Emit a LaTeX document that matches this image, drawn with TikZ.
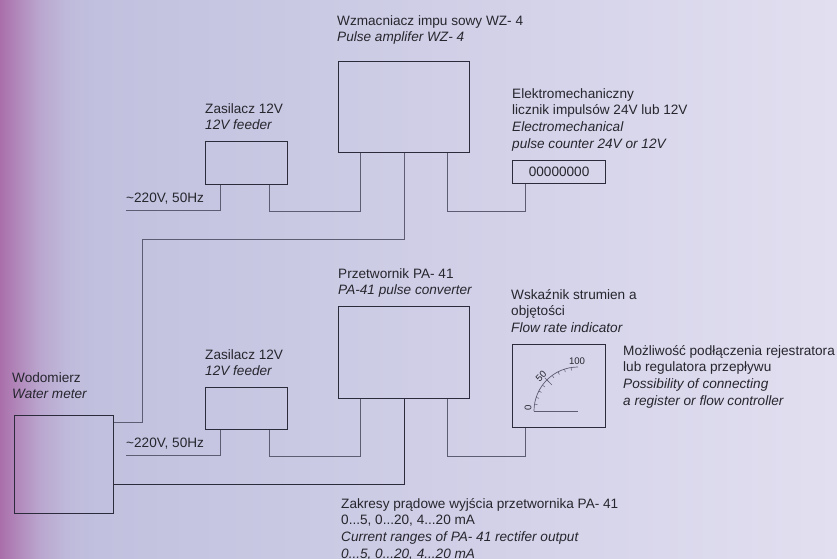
\documentclass[tikz,border=0pt]{standalone}
\usepackage{fontspec}
\setmainfont{Liberation Sans}
\usepackage{tikz}
\usetikzlibrary{arrows.meta,positioning,calc}
\definecolor{boxline}{HTML}{2B2B3C}
\definecolor{wireline}{HTML}{5C5C72}
\definecolor{txtcol}{HTML}{26262E}
\definecolor{c0}{RGB}{170,110,170}
\definecolor{c1}{RGB}{177,135,186}
\definecolor{c2}{RGB}{186,165,206}
\definecolor{c3}{RGB}{191,186,219}
\definecolor{c4}{RGB}{193,193,223}
\definecolor{c5}{RGB}{226,223,240}
\pgfdeclarehorizontalshading{bgshade}{100bp}{
  color(0bp)=(c0); color(25bp)=(c0); color(26bp)=(c1); color(27.3bp)=(c2);
  color(29bp)=(c3); color(31bp)=(c4); color(75bp)=(c5); color(100bp)=(c5)}

\begin{document}
\begin{tikzpicture}[x=1pt, y=-1pt,
    unit/.style={draw=boxline, line width=1.2pt, inner sep=0pt, anchor=north west},
    wire/.style={draw=wireline, line width=1pt},
    lbl/.style={anchor=north west, inner sep=0pt, align=left, text=txtcol, font=\fontsize{13.6}{16.7}\selectfont},
    scalelbl/.style={inner sep=0pt, text=txtcol, font=\fontsize{9.6}{10}\selectfont}
]
\useasboundingbox (0,0) rectangle (837,558);
\fill[shading=bgshade] (0,0) rectangle (837,558);

\node[unit, minimum width=131pt, minimum height=91pt] (amp) at (338,61) {};
\node[unit, minimum width=82pt, minimum height=43pt] (feederA) at (205,141) {};
\node[unit, minimum width=93pt, minimum height=23pt, font=\fontsize{13.6}{14}\selectfont, text=txtcol] (counter) at (512,160) {00000000};
\node[unit, minimum width=82pt, minimum height=42pt] (feederB) at (205,387) {};
\node[unit, minimum width=131pt, minimum height=92pt] (conv) at (338,306) {};
\node[unit, minimum width=93pt, minimum height=83pt] (flow) at (512,344) {};
\node[unit, minimum width=99pt, minimum height=98pt] (meter) at (14,415) {};

\node[lbl] (ampLbl) at (337,15) {Wzmacniacz impu sowy WZ- 4\\\textit{Pulse amplifer WZ- 4}};
\node[lbl] (feederALbl) at (205,103) {Zasilacz 12V\\\textit{12V feeder}};
\node[lbl] (counterLbl) at (512,88) {Elektromechaniczny\\licznik impulsów 24V lub 12V\\\textit{Electromechanical}\\\textit{pulse counter 24V or 12V}};
\node[lbl] (acALbl) at (126,193) {\textasciitilde220V, 50Hz};
\node[lbl] (convLbl) at (338,268) {Przetwornik PA- 41\\\textit{PA-41 pulse converter}};
\node[lbl] (flowLbl) at (511,289) {Wskaźnik strumien a\\objętości\\\textit{Flow rate indicator}};
\node[lbl] (regLbl) at (623,345) {Możliwość podłączenia rejestratora\\lub regulatora przepływu\\\textit{Possibility of connecting}\\\textit{a register or flow controller}};
\node[lbl] (feederBLbl) at (205,349) {Zasilacz 12V\\\textit{12V feeder}};
\node[lbl] (acBLbl) at (126,438) {\textasciitilde220V, 50Hz};
\node[lbl] (meterLbl) at (12,372) {Wodomierz\\\textit{Water meter}};
\node[lbl] (rangeLbl) at (341,498) {Zakresy prądowe wyjścia przetwornika PA- 41\\0...5, 0...20, 4...20 mA\\\textit{Current ranges of PA- 41 rectifer output}\\\textit{0...5, 0...20, 4...20 mA}};

\coordinate (acA) at (126,210);
\coordinate (acB) at (126,455);
\coordinate (meterA) at ([yshift=-7pt]meter.north east);
\coordinate (meterB) at ([yshift=-69pt]meter.north east);

\draw[wire] (acA) -| ([xshift=15pt]feederA.south west);
\draw[wire] ([xshift=-19pt]feederA.south east) -- ++(0,26) -| ([xshift=22pt]amp.south west);
\draw[wire] ([xshift=66pt]amp.south west) |- (142,239) |- (meterA);
\draw[wire] ([xshift=-23pt]amp.south east) -- ++(0,58) -| ([xshift=13pt]counter.south west);
\draw[wire] (acB) -| ([xshift=15pt]feederB.south west);
\draw[wire] ([xshift=-19pt]feederB.south east) -- ++(0,26) -| ([xshift=22pt]conv.south west);
\draw[wire, draw=boxline, line width=.8pt] (meterB) -| ([xshift=66pt]conv.south west);
\draw[wire] ([xshift=-23pt]conv.south east) -- ++(0,57) -| ([xshift=13pt]flow.south west);

% dial
\coordinate (dial) at (578,411);
\draw[wireline, line width=.7pt] (533.5,411) -- (dial);
\draw[wireline, line width=.7pt] (534,411) arc[start angle=180, end angle=270, radius=44];
\foreach \i in {1,...,9}
  \draw[wireline, line width=.5pt] (dial) ++({9*\i}:-44) -- ++({9*\i}:3);
\draw[wireline, line width=.5pt] (dial) ++(45:-47) -- ++(45:10);
\node[scalelbl, rotate=90] (tickZero) at (528,408) {0};
\node[scalelbl, rotate=45] (tickFifty) at (541,376) {50};
\node[scalelbl] (tickHundred) at (577,361) {100};
\end{tikzpicture}
\end{document}
